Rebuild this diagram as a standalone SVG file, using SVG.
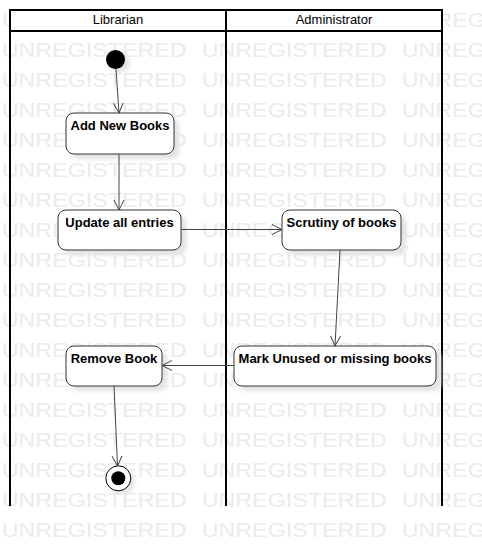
<svg xmlns="http://www.w3.org/2000/svg" xmlns:xlink="http://www.w3.org/1999/xlink" width="482" height="546" viewBox="0 0 482 546">
<style>
.wm{font-family:"Liberation Sans",Arial,sans-serif;font-size:23.3px;fill:#ebebeb}
.lane{stroke:#000;stroke-width:2;fill:none}
.hdr{font-family:"Liberation Sans",Arial,sans-serif;font-size:13px;fill:#000;text-anchor:middle}
.box{fill:#fff;stroke:#333;stroke-width:1}
.shadow{fill:#e2e2e2;filter:url(#blur)}
.lbl{font-family:"Liberation Sans",Arial,sans-serif;font-size:13px;font-weight:bold;fill:#000;text-anchor:middle}
.conn{stroke:#444;stroke-width:1;fill:none;marker-end:url(#open)}
</style>
<defs>
<filter id="blur" x="-20%" y="-20%" width="140%" height="140%"><feGaussianBlur stdDeviation="2"/></filter>
<marker id="open" markerUnits="userSpaceOnUse" markerWidth="12" markerHeight="12" refX="10" refY="5" orient="auto" viewBox="0 0 12 10">
<path d="M0,0 L10,5 L0,10" fill="none" stroke="#444" stroke-width="1"/>
</marker>
<g id="wmrow" transform="scale(1,0.84)">
<text class="wm" x="1.7" y="0">UNREGISTERED</text>
<text class="wm" x="201.7" y="0">UNREGISTERED</text>
<text class="wm" x="401.7" y="0">UNREGISTERED</text>
</g>
</defs>
<rect width="482" height="546" fill="#fff"/>
<g id="watermark">
<use xlink:href="#wmrow" y="27"/><use xlink:href="#wmrow" y="57"/><use xlink:href="#wmrow" y="87"/>
<use xlink:href="#wmrow" y="117"/><use xlink:href="#wmrow" y="147"/><use xlink:href="#wmrow" y="177"/>
<use xlink:href="#wmrow" y="207"/><use xlink:href="#wmrow" y="237"/><use xlink:href="#wmrow" y="267"/>
<use xlink:href="#wmrow" y="297"/><use xlink:href="#wmrow" y="327"/><use xlink:href="#wmrow" y="357"/>
<use xlink:href="#wmrow" y="387"/><use xlink:href="#wmrow" y="417"/><use xlink:href="#wmrow" y="447"/>
<use xlink:href="#wmrow" y="477"/><use xlink:href="#wmrow" y="507"/><use xlink:href="#wmrow" y="537"/>
</g>
<g id="swimlanes">
<rect x="10" y="10" width="432" height="21" fill="#fff"/>
<path class="lane" d="M10,506 V10 H442 V506 M226,10 V506 M10,31 H442"/>
<text class="hdr" x="118" y="24">Librarian</text>
<text class="hdr" x="334" y="24">Administrator</text>
</g>
<g id="initial">
<circle cx="120" cy="63" r="9.5" class="shadow"/>
<circle cx="115.5" cy="59.5" r="9.5" fill="#000"/>
</g>
<g id="addNewBooks">
<rect x="71" y="118" width="108" height="41" rx="8" class="shadow"/>
<rect x="66" y="113" width="108" height="41" rx="8" class="box"/>
<text class="lbl" x="120" y="130">Add New Books</text>
</g>
<g id="updateAllEntries">
<rect x="63" y="215" width="123" height="40" rx="8" class="shadow"/>
<rect x="58" y="210" width="123" height="40" rx="8" class="box"/>
<text class="lbl" x="119.5" y="227">Update all entries</text>
</g>
<g id="scrutinyOfBooks">
<rect x="287" y="215" width="119" height="40" rx="8" class="shadow"/>
<rect x="282" y="210" width="119" height="40" rx="8" class="box"/>
<text class="lbl" x="341.5" y="227">Scrutiny of books</text>
</g>
<g id="markUnused">
<rect x="239" y="351" width="202" height="40" rx="8" class="shadow"/>
<rect x="234" y="346" width="202" height="40" rx="8" class="box"/>
<text class="lbl" x="335" y="363">Mark Unused or missing books</text>
</g>
<g id="removeBook">
<rect x="71" y="351" width="96" height="40" rx="8" class="shadow"/>
<rect x="66" y="346" width="96" height="40" rx="8" class="box"/>
<text class="lbl" x="114" y="363">Remove Book</text>
</g>
<g id="final">
<circle cx="122" cy="482" r="12.5" class="shadow"/>
<circle cx="118.3" cy="478.3" r="12.5" fill="#fff" stroke="#000" stroke-width="1"/>
<circle cx="118.3" cy="478.3" r="7" fill="#000"/>
</g>
<g id="connectors">
<path class="conn" d="M116,69 L119,113"/>
<path class="conn" d="M119,154 L119,210"/>
<path class="conn" d="M181,229.5 L282,229.5"/>
<path class="conn" d="M340,250 L335,346"/>
<path class="conn" d="M234,365.5 L162,365.5"/>
<path class="conn" d="M114,386 L117.5,466"/>
</g>
</svg>
